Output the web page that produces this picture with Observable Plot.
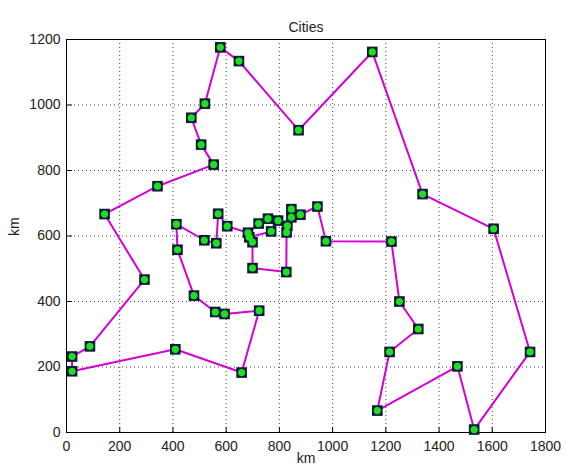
<!DOCTYPE html>
<html>
<head>
<meta charset="utf-8">
<script src="https://cdn.jsdelivr.net/npm/d3@7"></script>
<script src="https://cdn.jsdelivr.net/npm/@observablehq/plot@0.6"></script>
<style>
  html, body { margin: 0; padding: 0; background: #fff; }
  svg { display: block; }
</style>
</head>
<body>
<div id="chart"></div>
<script>
// Tour order of city coordinates (km)
const cityX = [21, 409, 658, 724, 594, 559, 479, 417, 413, 518, 563, 570, 604, 682, 722, 757, 795, 769, 687, 699, 699, 826, 827, 830, 845, 845, 879, 943, 975, 1221, 1251, 1322, 1214, 1168, 1469, 1532, 1742, 1605, 1338, 1149, 872, 648, 578, 520, 469, 506, 553, 342, 143, 293, 88, 21];
const cityY = [187, 254, 183, 372, 362, 368, 418, 558, 636, 587, 578, 668, 630, 610, 638, 653, 647, 614, 596, 581, 502, 490, 611, 631, 657, 682, 665, 690, 584, 583, 400, 316, 246, 67, 202, 9, 246, 622, 728, 1162, 923, 1134, 1176, 1004, 961, 879, 818, 752, 667, 467, 263, 232];
const xTicks = [0, 200, 400, 600, 800, 1000, 1200, 1400, 1600, 1800];
const yTicks = [0, 200, 400, 600, 800, 1000, 1200];
const titleText = "Cities";
const xLabel = "km";
const yLabel = "km";

const cities = cityX.map((x, i) => ({x, y: cityY[i]}));
const tour = [...cities, cities[0]];

const font = "Liberation Sans, Arial, Helvetica, sans-serif";

const chart = Plot.plot({
  width: 565,
  height: 472,
  marginLeft: 66,
  marginRight: 20,
  marginTop: 39,
  marginBottom: 40,
  style: {fontFamily: font, fontSize: "13px", color: "#000", background: "#fff"},
  x: {domain: [0, 1800]},
  y: {domain: [0, 1200]},
  marks: [
    Plot.gridX(xTicks, {stroke: "#000", strokeOpacity: 0.75, strokeDasharray: "1,3"}),
    Plot.gridY(yTicks, {stroke: "#000", strokeOpacity: 0.75, strokeDasharray: "1,3"}),
    Plot.frame({stroke: "#000", strokeWidth: 1}),
    Plot.axisX(xTicks, {tickSize: 0, tickPadding: 9, label: null, fontSize: 14, tickFormat: d => String(d), fill: "#222"}),
    Plot.axisY(yTicks, {tickSize: 0, tickPadding: 6, label: null, fontSize: 14, tickFormat: d => String(d), fill: "#222"}),
    Plot.ruleX(xTicks, {y1: 0, y2: 15, stroke: "#000"}),
    Plot.ruleY(yTicks, {x1: 0, x2: 22, stroke: "#000"}),
    Plot.line(tour, {x: "x", y: "y", stroke: "#d400d4", strokeWidth: 2}),
    Plot.dot(cities, {x: "x", y: "y", symbol: "square", r: 6, fill: "#0c1c3a", stroke: "none"}),
    Plot.dot(cities, {x: "x", y: "y", r: 3.6, fill: "#1ee01e", stroke: "none"}),
    Plot.text([titleText], {frameAnchor: "top", dy: -17, fontSize: 14, fill: "#222"}),
    Plot.text([xLabel], {frameAnchor: "bottom", dy: 30, fontSize: 14, fill: "#222"}),
    Plot.text([yLabel], {frameAnchor: "left", dx: -52, rotate: -90, fontSize: 14, fill: "#222"})
  ]
});
document.getElementById("chart").appendChild(chart);
</script>
</body>
</html>
